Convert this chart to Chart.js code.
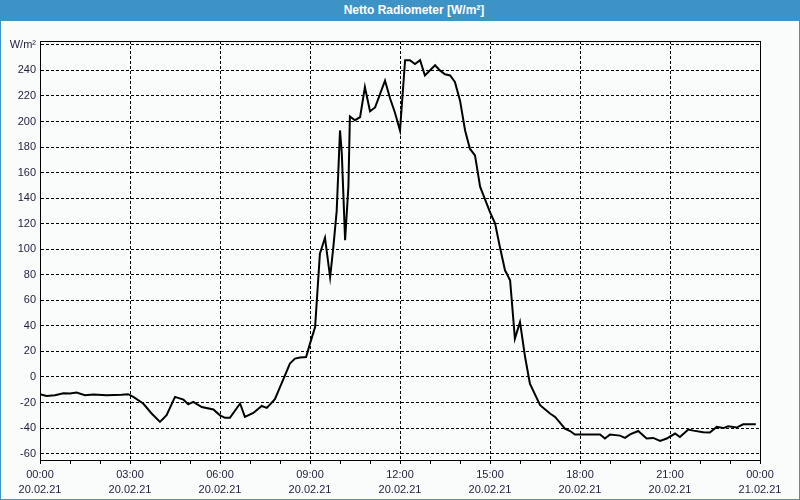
<!DOCTYPE html>
<html>
<head>
<meta charset="utf-8">
<script src="https://cdn.jsdelivr.net/npm/chart.js@4/dist/chart.umd.min.js"></script>
<style>
  html, body { margin: 0; padding: 0; background: #fafcfb; }
  #wrap { position: relative; width: 800px; height: 500px; overflow: hidden; }
  #title { position: absolute; left: 0; top: 0; width: 800px; height: 21px; background: #3d93c6;
           color: #fff; font: bold 12px "Liberation Sans", Arial, sans-serif; line-height: 21px;
           text-align: center; box-sizing: border-box; padding-left: 28px; }
  #frame { position: absolute; left: 0; top: 0; width: 800px; height: 500px; box-sizing: border-box;
           border: 1px solid #3d93c6; pointer-events: none; }
  canvas { position: absolute; left: 0; top: 0; }
</style>
</head>
<body>
<div id="wrap">
  <canvas id="c" width="800" height="500"></canvas>
  <div id="title">Netto Radiometer [W/m²]</div>
  <div id="frame"></div>
</div>
<script>
// Time of day (hours since 20.02.21 00:00)
const hours = [0.0,0.22,0.5,0.78,1.0,1.22,1.5,1.78,2.22,2.72,2.94,3.11,3.44,3.72,4.0,4.22,4.5,4.78,4.94,5.11,
  5.39,5.78,6.0,6.17,6.33,6.67,6.83,7.11,7.39,7.56,7.83,8.0,8.17,8.33,8.5,8.67,8.87,9.0,9.17,9.33,
  9.5,9.67,9.78,9.89,10.0,10.06,10.17,10.28,10.33,10.5,10.67,10.83,11.0,11.17,11.5,11.67,11.83,12.0,12.17,12.33,
  12.5,12.67,12.83,13.17,13.33,13.5,13.67,13.83,14.0,14.17,14.33,14.5,14.67,15.0,15.17,15.33,15.5,15.67,15.83,16.0,
  16.17,16.33,16.67,17.0,17.17,17.5,17.67,17.83,18.67,18.83,19.0,19.33,19.5,19.67,19.94,20.22,20.44,20.67,20.89,21.17,
  21.33,21.61,21.78,22.11,22.33,22.56,22.78,22.94,23.22,23.44,23.86];
// Net radiation W/m²
const netRadiation = [-13.5,-14.8,-14.3,-12.8,-13,-12.2,-14.3,-13.8,-14.3,-14,-13.5,-15.6,-20.8,-28.6,-35.2,-30,-15.6,-17.7,-21.4,-19.5,
  -23.5,-25.5,-30,-32,-32,-20.8,-31.3,-28.2,-22.7,-24.2,-17.4,-8,1.5,10.5,14.4,15.2,15.6,26.1,39.1,96.5,
  109,78,102,130,193,175,107,149,204,201,203.4,227,208,211,232,218,207,193,248,248,
  245,248,236,244,240,237,236,231,216.5,193,178.7,173.5,149,129,120,101.7,83.5,75.7,30,43,
  15.6,-5.2,-22.1,-28.6,-31.3,-40.4,-42.3,-45,-45,-48.2,-45,-45.9,-47.7,-45,-42.3,-48.2,-47.7,-50,-48.2,-44.3,
  -47,-41.2,-42,-43.3,-43.5,-39,-40,-38.6,-39.6,-37,-37];
const yTicks = [-60,-40,-20,0,20,40,60,80,100,120,140,160,180,200,220,240,260];
const yUnitLabel = 'W/m²';
const xTickHours = [0,1,2,3,4,5,6,7,8,9,10,11,12,13,14,15,16,17,18,19,20,21,22,23,24];
const xTimeLabels = {0:'00:00',3:'03:00',6:'06:00',9:'09:00',12:'12:00',15:'15:00',18:'18:00',21:'21:00',24:'00:00'};
const xDateLabels = {0:'20.02.21',3:'20.02.21',6:'20.02.21',9:'20.02.21',12:'20.02.21',15:'20.02.21',18:'20.02.21',21:'20.02.21',24:'21.02.21'};

const points = hours.map((h, i) => ({x: h, y: netRadiation[i]}));
const textColor = '#1e1e3c';
const font = {family: '"Liberation Sans", Arial, sans-serif', size: 11, lineHeight: '15px'};

const bgPlugin = {
  id: 'bg',
  beforeDraw(chart) {
    const ctx = chart.ctx;
    ctx.save();
    ctx.fillStyle = '#fafcfb';
    ctx.fillRect(0, 0, chart.width, chart.height);
    ctx.restore();
  },
  afterDatasetsDraw(chart) {
    const a = chart.chartArea, ctx = chart.ctx;
    ctx.save();
    ctx.setLineDash([]);
    ctx.strokeStyle = '#000';
    ctx.lineWidth = 1;
    ctx.strokeRect(Math.round(a.left) + 0.5, Math.round(a.top) + 0.5, Math.round(a.right - a.left), Math.round(a.bottom - a.top));
    ctx.restore();
  }
};

new Chart(document.getElementById('c'), {
  type: 'line',
  data: {
    datasets: [{
      data: points,
      borderColor: '#000',
      borderWidth: 2,
      pointRadius: 0,
      tension: 0,
      fill: false
    }]
  },
  options: {
    responsive: false,
    animation: false,
    events: [],
    layout: {padding: {top: 41, right: 40, left: 0, bottom: 0}},
    plugins: {legend: {display: false}, title: {display: false}, tooltip: {enabled: false}},
    scales: {
      x: {
        type: 'linear',
        min: 0, max: 24,
        afterBuildTicks(scale) { scale.ticks = xTickHours.map(v => ({value: v})); },
        afterFit(scale) { scale.height = 40; },
        grid: {
          color: (c) => (c.tick && c.tick.value % 3 === 0) ? '#000' : 'rgba(0,0,0,0)',
          tickColor: '#000',
          tickBorderDash: [],
          tickLength: 4,
          drawTicks: true,
          lineWidth: 1
        },
        border: {display: true, color: '#000', width: 1, dash: [3, 2]},
        ticks: {
          autoSkip: false, maxRotation: 0, minRotation: 0, padding: 3,
          color: textColor, font: font,
          callback: (v) => (v in xTimeLabels) ? [xTimeLabels[v], xDateLabels[v]] : ''
        }
      },
      y: {
        type: 'linear',
        min: -65, max: 263,
        afterBuildTicks(scale) { scale.ticks = yTicks.map(v => ({value: v})); },
        afterFit(scale) { scale.width = 40; },
        grid: {
          color: '#000',
          drawTicks: false,
          lineWidth: 1
        },
        border: {display: true, color: '#000', width: 1, dash: [3, 2]},
        ticks: {
          padding: 4,
          color: textColor, font: {family: font.family, size: 11},
          callback: (v) => v === 260 ? yUnitLabel : String(v)
        }
      }
    }
  },
  plugins: [bgPlugin]
});
</script>
</body>
</html>
